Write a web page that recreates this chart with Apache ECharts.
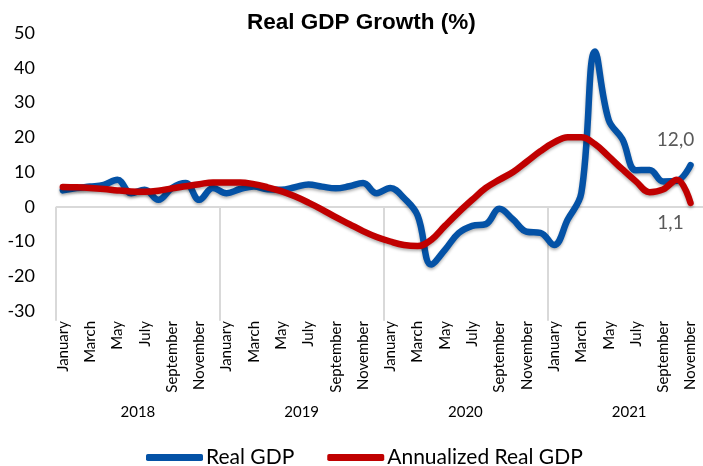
<!DOCTYPE html>
<html>
<head>
<meta charset="utf-8">
<script src="https://cdn.jsdelivr.net/npm/echarts@6/dist/echarts.min.js"></script>
<style>html,body{margin:0;padding:0;background:#fff}#c{width:703px;height:466px}</style>
</head>
<body>
<div id="c"></div>
<script>
const years = ['2018', '2019', '2020', '2021'];
const months = ['January','February','March','April','May','June','July','August','September','October','November','December'];
const yTicks = [-30, -20, -10, 0, 10, 20, 30, 40, 50];

const realGDP = [
  4.7, 5.4, 5.8, 6.3, 7.8, 3.9, 4.9, 2.0, 5.4, 6.8, 2.0, 5.4,
  3.9, 5.1, 5.8, 5.0, 4.9, 5.6, 6.4, 5.8, 5.3, 5.9, 6.8, 3.9,
  5.4, 2.5, -2.5, -16.6, -12.4, -7.6, -5.5, -5.0, -0.6, -3.7, -7.2, -7.5,
  -11.0, -3.7, 4.0, 44.7, 25.0, 19.5, 10.5, 10.6, 7.3, 7.5, 12.0, null
];
const annualizedGDP = [
  5.7, 5.6, 5.4, 5.1, 4.7, 4.4, 4.3, 4.6, 5.3, 5.9, 6.5, 7.0,
  7.0, 7.0, 6.5, 5.6, 4.5, 3.0, 1.2, -0.8, -3.0, -5.0, -7.0, -8.7,
  -10.0, -11.0, -11.3, -9.5, -5.5, -1.6, 2.0, 5.4, 7.8, 10.0, 13.0, 16.0,
  18.5, 20.0, 20.0, 18.0, 14.5, 10.8, 7.3, 4.2, 5.0, 7.8, 1.1, null
];

const categories = [];
years.forEach(y => months.forEach(m => categories.push(m + ' ' + y)));
const nCat = categories.length;
const yearCenters = years.map((y, i) => i * 12 + 6);
const yearBounds = years.map((y, i) => i * 12).concat([years.length * 12]);

function fmt(p) {
  const v = Array.isArray(p.value) ? p.value[p.value.length - 1] : p.value;
  return Number(v).toFixed(1).replace('.', ',');
}

const FONT = 'Lato';
const chart = echarts.init(document.getElementById('c'), null, { renderer: 'canvas' });
chart.setOption({
  animation: false,
  title: {
    text: 'Real GDP Growth (%)',
    left: 247, top: 11, padding: 0,
    textStyle: { fontFamily: 'Liberation Sans', fontWeight: 'bold', fontSize: 22.5, color: '#000' }
  },
  legend: {
    left: 146, top: 447, padding: 0,
    itemWidth: 57, itemHeight: 7, itemGap: 33,
    icon: 'roundRect',
    textStyle: { fontFamily: FONT, fontSize: 21, color: '#000', padding: [0, 0, 0, -2] },
    data: ['Real GDP', 'Annualized Real GDP']
  },
  grid: { left: 56, width: 655, top: 33, bottom: 155, containLabel: false, outerBoundsMode: 'none' },
  xAxis: [
    {
      type: 'category',
      data: categories,
      boundaryGap: true,
      axisLine: { show: false, onZero: false },
      axisTick: { show: false },
      axisLabel: {
        interval: 1, rotate: 90, margin: 10,
        fontFamily: FONT, fontSize: 15, color: '#000',
        formatter: v => v.split(' ')[0]
      },
      splitLine: { show: false }
    },
    {
      type: 'value',
      min: 0, max: nCat,
      position: 'bottom',
      axisLine: { show: false },
      splitLine: { show: false },
      axisTick: {
        show: true, inside: false, length: 114,
        customValues: yearBounds,
        lineStyle: { color: '#d9d9d9', width: 2 }
      },
      axisLabel: {
        show: true, margin: 94,
        customValues: yearCenters,
        fontFamily: FONT, fontSize: 15, color: '#000',
        formatter: v => years[Math.round((v - 6) / 12)] || ''
      }
    }
  ],
  yAxis: {
    type: 'value',
    min: yTicks[0], max: yTicks[yTicks.length - 1], interval: 10,
    axisLine: { show: false },
    axisTick: { show: false },
    axisLabel: { fontFamily: FONT, fontSize: 18, color: '#000', margin: 21 },
    splitLine: {
      show: true,
      lineStyle: { color: yTicks.map(t => t === 0 ? '#d9d9d9' : 'rgba(0,0,0,0)'), width: 2 }
    }
  },
  series: [
    {
      name: 'Real GDP',
      type: 'line',
      xAxisIndex: 0,
      data: realGDP,
      smooth: 0.4,
      symbol: 'none',
      color: '#0452A6',
      lineStyle: { width: 6.5, color: '#0452A6', shadowBlur: 3, shadowColor: 'rgba(0,0,0,0.3)', shadowOffsetY: 2, cap: 'round', join: 'round' },
      endLabel: {
        show: true, formatter: fmt, distance: 0,
        align: 'center', verticalAlign: 'middle', offset: [-15, -25],
        fontFamily: FONT, fontSize: 19, color: '#595959'
      },
      z: 2
    },
    {
      name: 'Annualized Real GDP',
      type: 'line',
      xAxisIndex: 0,
      data: annualizedGDP,
      smooth: 0.4,
      symbol: 'none',
      color: '#C00000',
      lineStyle: { width: 6.5, color: '#C00000', shadowBlur: 3, shadowColor: 'rgba(0,0,0,0.3)', shadowOffsetY: 2, cap: 'round', join: 'round' },
      endLabel: {
        show: true, formatter: fmt, distance: 0,
        align: 'center', verticalAlign: 'middle', offset: [-20, 20],
        fontFamily: FONT, fontSize: 19, color: '#595959'
      },
      z: 3
    }
  ]
});
</script>
</body>
</html>
